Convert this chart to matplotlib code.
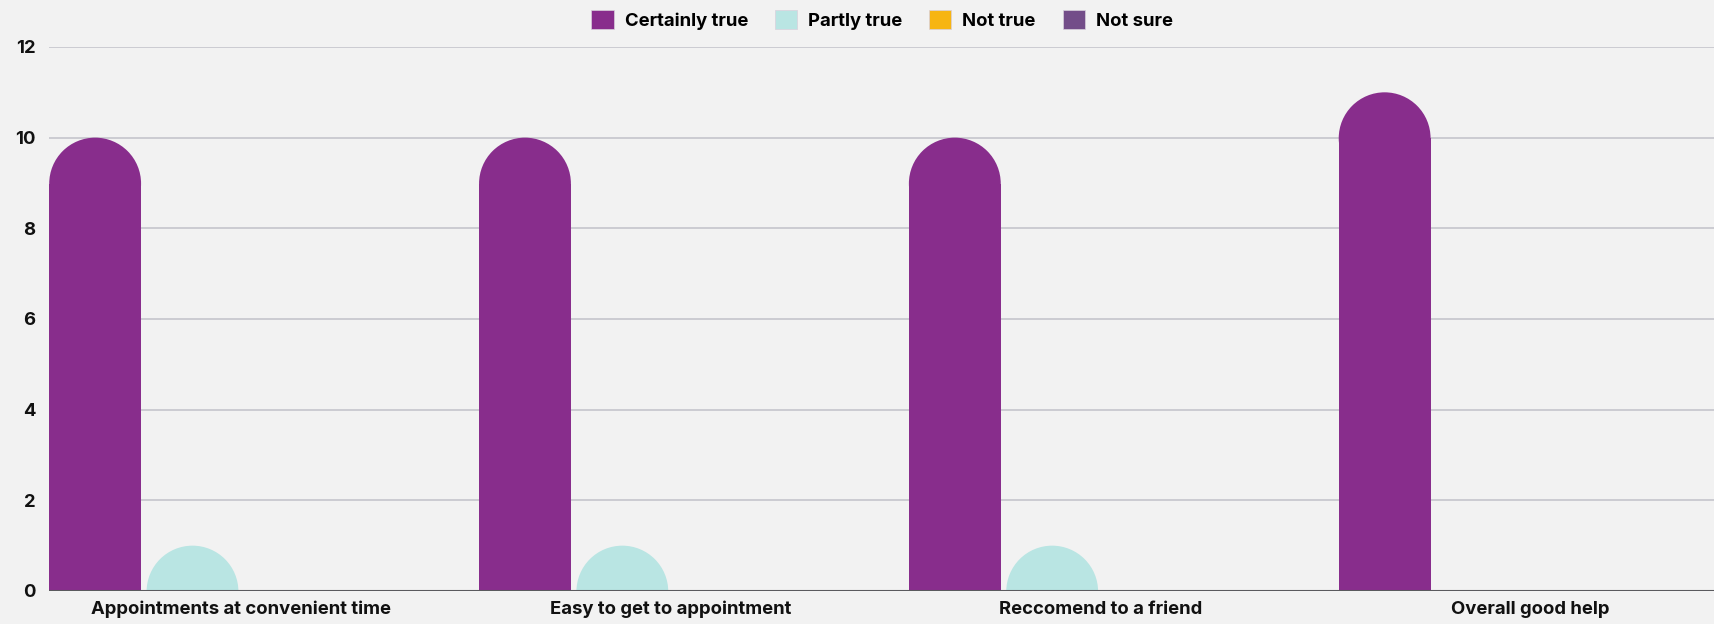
import numpy as np
import matplotlib
matplotlib.use("Agg")
import matplotlib.pyplot as plt
from matplotlib.patches import Ellipse, Patch

# survey answers per statement
categories = ["Appointments at convenient time", "Easy to get to appointment",
              "Reccomend to a friend", "Overall good help"]
series = ["Certainly true", "Partly true", "Not true", "Not sure"]
certainly_true = [10, 10, 10, 11]
partly_true = [1, 1, 1, 0]
not_true = [0, 0, 0, 0]
not_sure = [0, 0, 0, 0]
colors = ["#882d8c", "#b9e5e3", "#f7b512", "#734d89"]
y_ticks = [0, 2, 4, 6, 8, 10, 12]

plt.rcParams["font.family"] = ["Inter", "DejaVu Sans"]
plt.rcParams["font.weight"] = "bold"

bg = "#f2f2f2"
fs = 13.3
fig = plt.figure(figsize=(17.15, 6.24), dpi=100, facecolor=bg)
ax = fig.add_axes([0.0287, 0.0529, 0.9713, 0.8718], facecolor=bg)

x = np.arange(len(categories))
width = 0.2137
step = 0.2265
ax.set_xlim(-0.4466, 3.4288)
ax.set_ylim(0, 12)

# radius of the rounded cap expressed in y data units
fig.canvas.draw()
p0 = ax.transData.transform((0, 0))
p1 = ax.transData.transform((1, 1))
px_x = p1[0] - p0[0]
px_y = p1[1] - p0[1]
ry = (width / 2) * px_x / px_y

values = [certainly_true, partly_true, not_true, not_sure]
for i, (vals, col) in enumerate(zip(values, colors)):
    xs = x + (i - 1.5) * step
    for xc, v in zip(xs, vals):
        if v <= 0:
            continue
        rect_h = max(v - ry, 0)
        ax.bar(xc, rect_h, width=width, color=col, linewidth=0, zorder=3)
        ax.add_patch(Ellipse((xc, v - ry), width, 2 * ry, facecolor=col,
                             linewidth=0, zorder=3, clip_on=True))

ax.set_yticks(y_ticks)
ax.yaxis.grid(True, color="#c9c8cf", linewidth=1.3, zorder=0)
ax.axhline(0, color="#5a5a5e", linewidth=1.5, zorder=4)
for s in ax.spines.values():
    s.set_visible(False)
ax.set_xticks(x)
ax.set_xticklabels(categories)
ax.tick_params(axis="both", length=0, labelsize=fs, colors="#111111")
ax.tick_params(axis="y", pad=10)
ax.tick_params(axis="x", pad=7)

handles = [Patch(facecolor=c, edgecolor="#d8d0dc", linewidth=0.5) for c in colors]
leg = ax.legend(handles, series, loc="center", ncol=4, frameon=False,
                fontsize=fs, handlelength=1.2, handleheight=1.2,
                handletextpad=0.6, columnspacing=1.45)
leg.set_bbox_to_anchor((0.5 * (0.0287 + 1), 0.968), transform=fig.transFigure)

fig.savefig("out.png", dpi=100, facecolor=bg)
